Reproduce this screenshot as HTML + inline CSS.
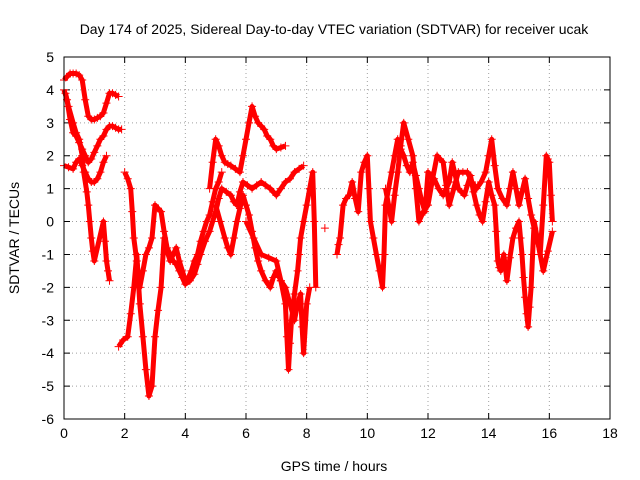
<!DOCTYPE html>
<html><head><meta charset="utf-8"><style>
body{margin:0;background:#fff;}
svg{display:block;font-family:"Liberation Sans",sans-serif;}
</style></head><body>
<svg id="chart" width="640" height="480">
<rect width="640" height="480" fill="#fff"/>
<text x="334" y="34" text-anchor="middle" font-size="14">Day 174 of 2025, Sidereal Day-to-day VTEC variation (SDTVAR) for receiver ucak</text>
<text x="334" y="471" text-anchor="middle" font-size="14">GPS time / hours</text>
<text transform="translate(19,238) rotate(-90)" text-anchor="middle" font-size="14">SDTVAR / TECUs</text>
<g id="grid"></g><g id="marks"></g>
<rect x="64" y="57" width="546" height="362" fill="none" stroke="#000"/>
</svg>
<script>
const xTicks=[0,2,4,6,8,10,12,14,16,18];
const yTicks=[5,4,3,2,1,0,-1,-2,-3,-4,-5,-6];
const trackA=[[0,4.3],[0.1,4.4],[0.2,4.5],[0.3,4.5],[0.4,4.5],[0.5,4.45],[0.6,4.3],[0.7,3.7],[0.8,3.2],[0.9,3.1],[1.0,3.1],[1.1,3.15],[1.2,3.2],[1.3,3.3],[1.4,3.6],[1.5,3.9],[1.6,3.9],[1.7,3.85],[1.8,3.8]];
const trackB=[[0,4.0],[0.1,3.7],[0.2,3.1],[0.3,2.7],[0.4,2.6],[0.5,2.4],[0.6,2.2],[0.7,2.0],[0.8,1.8],[0.9,1.9],[1.0,2.1],[1.1,2.3],[1.2,2.5],[1.3,2.6],[1.4,2.8],[1.5,2.9],[1.6,2.9],[1.7,2.85],[1.8,2.8],[1.9,2.8]];
const trackC=[[0,1.7],[0.15,1.65],[0.3,1.6],[0.4,1.8],[0.5,1.9],[0.6,1.7],[0.7,1.5],[0.8,1.3],[0.9,1.2],[1.0,1.2],[1.1,1.3],[1.2,1.5],[1.3,1.8],[1.4,2.0]];
const trackD=[[0.05,3.9],[0.15,3.5],[0.3,3.0],[0.4,2.7],[0.5,2.5],[0.6,2.0],[0.65,1.5],[0.75,0.9],[0.8,0.5],[0.85,0],[0.9,-0.5],[0.95,-0.9],[1.0,-1.2],[1.3,0],[1.35,-0.6],[1.4,-1.2],[1.45,-1.5],[1.5,-1.8]];
const trackE=[[1.8,-3.8],[1.95,-3.6],[2.1,-3.5],[2.2,-2.8],[2.3,-2.0],[2.4,-1.0],[2.5,-2.5],[2.6,-3.5],[2.7,-4.5],[2.8,-5.3],[2.9,-5.0],[3.0,-3.5],[3.1,-2.7],[3.2,-2.0],[3.3,-0.5],[3.4,-0.9],[3.5,-1.2],[3.6,-1.0],[3.7,-0.8],[3.8,-1.2],[3.9,-1.5],[4.0,-1.8],[4.1,-1.7],[4.2,-1.5],[4.3,-1.2],[4.4,-1.0],[4.5,-0.6],[4.6,-0.3],[4.7,0],[4.8,0.2],[4.9,0.6],[5.0,1.0],[5.1,1.2],[5.2,1.5]];
const trackF=[[2.0,1.5],[2.1,1.3],[2.2,1.0],[2.25,0.3],[2.3,-0.5],[2.4,-1.2],[2.5,-2.0],[2.6,-1.5],[2.7,-1.0],[2.8,-0.8],[2.9,-0.5],[3.0,0.5],[3.1,0.4],[3.2,0.3],[3.3,-0.3],[3.4,-0.8],[3.5,-1.0],[3.6,-1.2],[3.7,-1.3],[3.8,-1.5],[3.9,-1.7],[4.0,-1.9],[4.15,-1.8],[4.3,-1.6],[4.4,-1.3],[4.5,-1.0],[4.65,-0.6],[4.8,-0.3],[4.9,0],[5.0,0.3],[5.1,0.7],[5.2,1.0],[5.35,0.9],[5.5,0.8],[5.6,0.6],[5.7,0.5],[5.8,0.9],[5.9,1.2],[6.05,1.1],[6.2,1.0],[6.35,1.1],[6.5,1.2],[6.65,1.1],[6.8,1.0],[6.9,0.9],[7.0,0.8],[7.15,1.0],[7.3,1.2],[7.45,1.3],[7.6,1.5],[7.75,1.6],[7.9,1.7]];
const trackG=[[4.8,1.0],[4.9,1.8],[5.0,2.5],[5.1,2.3],[5.2,2.0],[5.3,1.8],[5.4,1.75],[5.5,1.7],[5.65,1.6],[5.8,1.5],[5.9,2.0],[6.0,2.5],[6.1,3.0],[6.2,3.5],[6.3,3.2],[6.4,3.0],[6.5,2.9],[6.6,2.8],[6.7,2.6],[6.8,2.5],[6.9,2.3],[7.0,2.2],[7.15,2.25],[7.3,2.3]];
const trackH=[[5.0,0.5],[5.15,0],[5.3,-0.5],[5.4,-0.8],[5.5,-1.0],[5.6,-0.5],[5.7,0],[5.8,0.4],[5.9,0.8],[6.0,0.5],[6.1,0.2],[6.2,-0.3],[6.3,-0.8],[6.4,-1.2],[6.5,-1.5],[6.65,-1.8],[6.8,-2.0],[6.9,-1.7],[7.0,-1.5],[7.15,-1.8],[7.3,-2.0],[7.45,-2.5],[7.6,-3.0],[7.7,-2.5],[7.8,-2.2],[7.85,-3.2],[7.9,-4.0],[8.0,-2.5],[8.1,-2.0]];
const trackI=[[6.0,0],[6.25,-0.5],[6.5,-1.0],[6.75,-1.1],[7.0,-1.2],[7.15,-1.8],[7.3,-2.5],[7.35,-3.5],[7.4,-4.5],[7.45,-3.7],[7.5,-3.0],[7.6,-2.2],[7.7,-1.5],[7.75,-1.0],[7.8,-0.5],[7.9,0],[8.0,0.5],[8.1,1.0],[8.2,1.5],[8.25,0],[8.3,-2.0]];
const trackJ=[[8.6,-0.2],[9.0,-1.0],[9.05,-0.7],[9.1,-0.5],[9.2,0.5],[9.3,0.7],[9.4,0.8],[9.5,1.2],[9.6,0.7],[9.7,0.3],[9.8,1.5],[9.9,1.8],[10.0,2.0],[10.05,1.0],[10.1,0],[10.2,-0.5],[10.3,-1.0],[10.4,-1.5],[10.5,-2.0],[10.55,-1.0],[10.6,0.5],[10.7,1.0],[10.8,1.5],[10.9,2.0],[11.0,2.5],[11.1,2.2],[11.2,2.0],[11.3,1.7],[11.4,1.5],[11.5,1.8],[11.6,1.4],[11.7,1.0],[11.8,0.6],[11.9,0.3],[12.0,1.5],[12.1,1.4],[12.2,1.3],[12.35,1.0],[12.5,0.8],[12.6,1.0],[12.7,1.2],[12.8,1.8],[12.9,1.4],[13.0,1.0],[13.1,0.9],[13.2,0.8],[13.3,1.1],[13.4,1.4],[13.5,0.9],[13.6,0.5],[13.7,0.2],[13.8,0],[13.9,0.6],[14.0,1.2],[14.1,0.8],[14.2,0.5],[14.25,-0.3],[14.3,-1.2],[14.35,-1.4],[14.4,-1.5],[14.45,-1.2],[14.5,-1.0],[14.55,-1.4],[14.6,-1.8],[14.7,-1.1],[14.8,-0.5],[14.9,-0.2],[15.0,0],[15.05,-0.5],[15.1,-1.0],[15.15,-1.7],[15.2,-2.3],[15.25,-2.8],[15.3,-3.2],[15.35,-2.6],[15.4,-2.0],[15.45,-1.0],[15.5,0],[15.6,-0.5],[15.7,-1.0],[15.8,0.5],[15.9,2.0],[15.95,1.9],[16.0,1.8],[16.05,0.8],[16.1,0]];
const trackK=[[10.6,1.0],[10.7,0.5],[10.8,0],[10.9,0.8],[11.0,1.5],[11.1,2.3],[11.2,3.0],[11.35,2.5],[11.5,2.0],[11.6,1.0],[11.7,0],[11.85,0.3],[12.0,0.5],[12.15,1.3],[12.3,2.0],[12.4,1.9],[12.5,1.8],[12.6,1.1],[12.7,0.5],[12.85,1.0],[13.0,1.5],[13.15,1.5],[13.3,1.5],[13.45,1.2],[13.6,1.0],[13.75,1.2],[13.9,1.5],[14.0,2.0],[14.1,2.5],[14.2,1.7],[14.3,1.0],[14.45,0.7],[14.6,0.5],[14.7,1.0],[14.8,1.5],[14.9,1.0],[15.0,0.5],[15.1,0.9],[15.2,1.3],[15.3,0.7],[15.4,0.2],[15.5,-0.2],[15.6,-0.5],[15.7,-1.0],[15.8,-1.5],[15.95,-0.9],[16.1,-0.3]];
const tracks=[trackA,trackB,trackC,trackD,trackE,trackF,trackG,trackH,trackI,trackJ,trackK];
const NS="http://www.w3.org/2000/svg";
const X0=64,X1=610,Y0=419,Y1=57;
function xs(v){return X0+(v-0)/18*(X1-X0);}
function ys(v){return Y0-(v+6)/11*(Y0-Y1);}
const grid=document.getElementById('grid');
xTicks.forEach(t=>{
 const x=xs(t);
 if(t>0&&t<18){const l=document.createElementNS(NS,'line');l.setAttribute('x1',x);l.setAttribute('x2',x);l.setAttribute('y1',Y1);l.setAttribute('y2',Y0);l.setAttribute('stroke','#a0a0a0');l.setAttribute('stroke-dasharray','1,3');
 
 grid.appendChild(l);}
 const tk=document.createElementNS(NS,'path');tk.setAttribute('d',`M${x},${Y0}v-6M${x},${Y1}v6`);tk.setAttribute('stroke','#000');
 
 grid.appendChild(tk);
 const tx=document.createElementNS(NS,'text');tx.setAttribute('x',x);tx.setAttribute('y',Y0+19);tx.setAttribute('text-anchor','middle');tx.setAttribute('font-size','14');tx.textContent=t;
 
 grid.appendChild(tx);
});
yTicks.forEach(t=>{
 const y=ys(t);
 if(t>-6&&t<5){const l=document.createElementNS(NS,'line');l.setAttribute('x1',X0);l.setAttribute('x2',X1);l.setAttribute('y1',y);l.setAttribute('y2',y);l.setAttribute('stroke','#a0a0a0');l.setAttribute('stroke-dasharray','1,3');
 
 grid.appendChild(l);}
 const tk=document.createElementNS(NS,'path');tk.setAttribute('d',`M${X0},${y}h6M${X1},${y}h-6`);tk.setAttribute('stroke','#000');
 
 grid.appendChild(tk);
 const tx=document.createElementNS(NS,'text');tx.setAttribute('x',X0-10);tx.setAttribute('y',y+5);tx.setAttribute('text-anchor','end');tx.setAttribute('font-size','14');tx.textContent=t;
 
 grid.appendChild(tx);
});
const marks=document.getElementById('marks');
tracks.forEach(tr=>{
 let d='';let prev=null;
 tr.forEach(p=>{const x=xs(p[0]),y=ys(p[1]);d+=(prev&&p[0]-prev[0]<0.35?'L':'M')+x.toFixed(1)+','+y.toFixed(1);prev=p;});
 const pl=document.createElementNS(NS,'path');pl.setAttribute('d',d);pl.setAttribute('fill','none');pl.setAttribute('stroke','#f00');pl.setAttribute('stroke-width','5');pl.setAttribute('stroke-linejoin','round');
 
 marks.appendChild(pl);
 tr.forEach(p=>{
  const x=xs(p[0]),y=ys(p[1]);
  const m=document.createElementNS(NS,'path');m.setAttribute('d',`M${x-4},${y}h8M${x},${y-4}v8`);m.setAttribute('stroke','#f00');m.setAttribute('stroke-width','1');
  
  marks.appendChild(m);
 });
});
</script>
</body></html>
